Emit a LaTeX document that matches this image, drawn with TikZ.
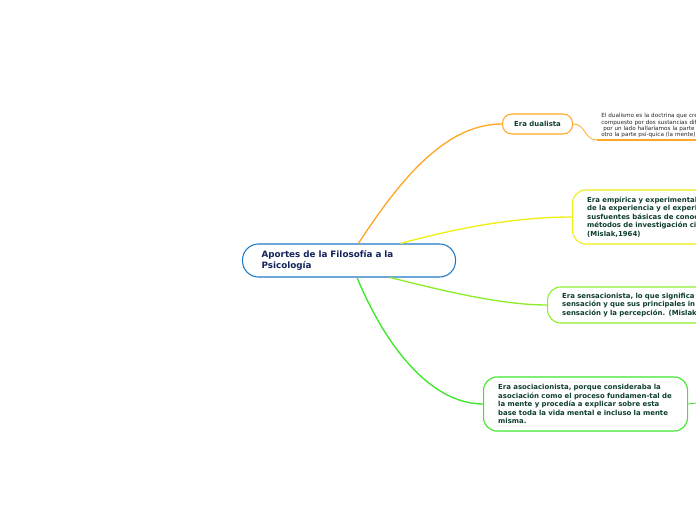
\documentclass[tikz,border=0pt]{standalone}
\usepackage{fontspec}
\setmainfont{DejaVu Sans}
\usepackage{xcolor}
\definecolor{mapblue}{RGB}{30,120,195}
\definecolor{maporange}{RGB}{255,168,40}
\definecolor{mapyellow}{RGB}{238,238,20}
\definecolor{maplime}{RGB}{140,238,40}
\definecolor{mapgreen}{RGB}{60,232,40}
\definecolor{roottext}{RGB}{20,36,90}
\definecolor{leaftext}{RGB}{14,62,46}

\begin{document}
\begin{tikzpicture}[x=0.75pt,y=-0.75pt,
  topic/.style={draw,line width=0.8pt,fill=white,rounded corners=10pt,anchor=west,align=left,
    inner xsep=11pt,inner ysep=0pt,text=leaftext,font=\fontsize{5.2}{6.4}\selectfont\bfseries},
  branch/.style={line width=1pt}]
  \useasboundingbox (0,0) rectangle (696,520);
  \clip (0,0) rectangle (696,520);
  \node[draw=mapblue,line width=0.8pt,rounded corners=12pt,anchor=west,minimum height=24.75pt,text width=131.25pt,inner xsep=14.25pt,align=left,text=roottext,font=\fontsize{6.6}{8.25}\selectfont\bfseries] (root) at (242,260.5) {Aportes de la Filosofía a la\\Psicología};
  \node[topic,draw=maporange,align=center,minimum width=52.5pt,minimum height=15pt,inner xsep=0pt,rounded corners=7pt] (dualista) at (502,124) {Era dualista};
  \node[anchor=south west,align=left,text width=100pt,inner xsep=3pt,inner ysep=1.5pt,text=black!85,font=\fontsize{4.25}{4.7}\selectfont] (dualnote) at (597,140) {El dualismo es la doctrina que cre\\compuesto por dos sustancias dife\\\hspace*{1.5pt}por un lado hallaríamos la parte s\\otro la parte psí-quica (la mente)};
  \node[topic,draw=mapyellow,minimum height=40.5pt,text width=200pt] (empirica) at (572,217) {Era empírica y experimental\\de la experiencia y el experi\\susfuentes básicas de conoc\\métodos de investigación ci\\(Mislak,1964)};
  \node[topic,draw=maplime,minimum height=27pt,text width=200pt] (sensacion) at (547,305) {Era sensacionista, lo que significa\\sensación y que sus principales in\\sensación y la percepción. (Mislak};
  \node[topic,draw=mapgreen,minimum height=40.5pt,text width=131pt] (asociacion) at (483,404) {Era asociacionista, porque consideraba la\\asociación como el proceso fundamen-tal de\\la mente y procedía a explicar sobre esta\\base toda la vida mental e incluso la mente\\misma.};
  \coordinate (asocnext) at (705,402);
  \draw[maporange,branch] ([xshift=7pt]root.north) .. controls (400,180) and (445,124) .. (dualista.west);
  \draw[mapyellow,branch] ([xshift=38.6pt]root.north) .. controls (450,230) and (510,217) .. (empirica.west);
  \draw[maplime,branch] ([xshift=31pt]root.south) .. controls (440,290) and (500,305) .. (sensacion.west);
  \draw[mapgreen,branch] ([xshift=6pt]root.south) .. controls (385,345) and (430,404) .. (asociacion.west);
  \draw[maporange,line width=0.6pt] (dualista.east) .. controls (586,124) and (584,140) .. (dualnote.south west);
  \draw[maporange,line width=1.5pt] (dualnote.south west) -- (dualnote.south east);
  \draw[mapgreen,line width=0.6pt] (asociacion.east) -- (asocnext);
\end{tikzpicture}
\end{document}
